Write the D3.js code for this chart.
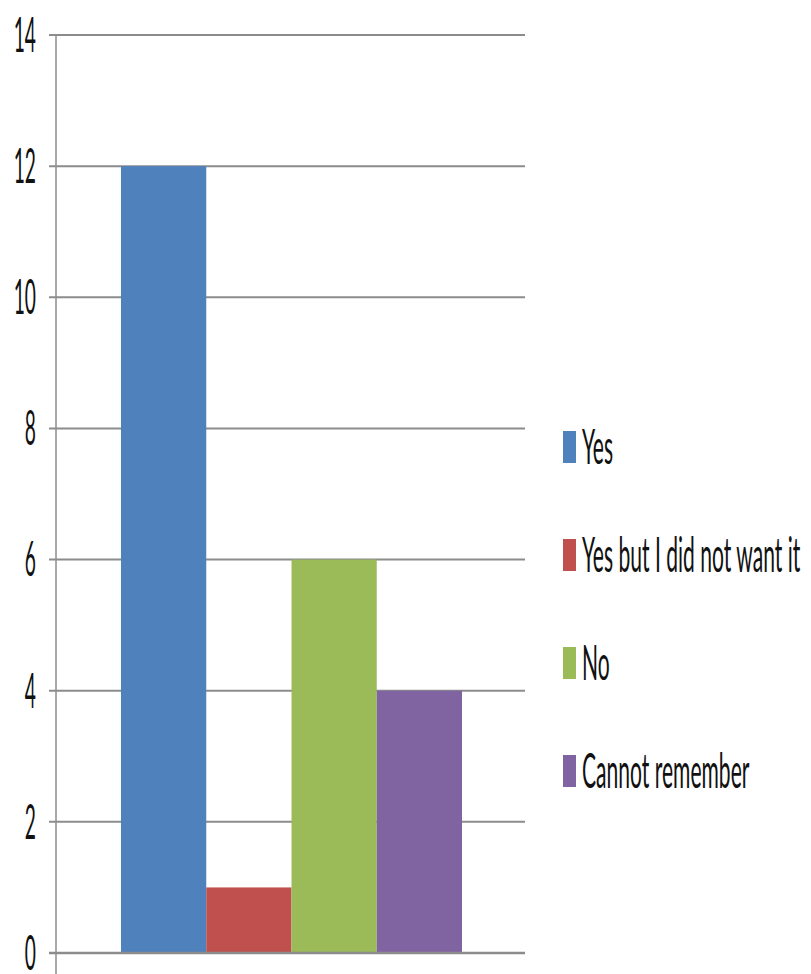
<!DOCTYPE html>
<html>
<head>
<meta charset="utf-8">
<script src="https://cdn.jsdelivr.net/npm/d3@7"></script>
<style>
  body { margin: 0; background: #fff; }
  svg { display: block; }
  text { font-family: Lato, "Open Sans", sans-serif; fill: #111; }
</style>
</head>
<body>
<svg width="811" height="974"></svg>
<script>
// data
var series = ["Yes", "Yes but I did not want it", "No", "Cannot remember"];
var values = [12, 1, 6, 4];
var colors = ["#4F81BD", "#C0504D", "#9BBB59", "#8064A2"];
var yTicks = [0, 2, 4, 6, 8, 10, 12, 14];

var svg = d3.select("svg");

var plot = { left: 56, right: 525, top: 35, bottom: 953 };

var y = d3.scaleLinear()
	.domain([0, 14])
	.range([plot.bottom, plot.top]);

var x = d3.scaleBand()
	.domain(series)
	.range([plot.left + 65, plot.right - 63])
	.paddingInner(0)
	.paddingOuter(0);

// gridlines
svg.append("g").selectAll("line")
	.data(yTicks)
	.enter().append("line")
	.attr("x1", plot.left - 7)
	.attr("x2", plot.right)
	.attr("y1", function(d){ return y(d); })
	.attr("y2", function(d){ return y(d); })
	.attr("stroke", "#8c8c8c")
	.attr("stroke-width", 2);

// bars
svg.append("g").selectAll("rect")
	.data(values)
	.enter().append("rect")
	.attr("x", function(d, i){ return x(series[i]); })
	.attr("y", function(d){ return y(d); })
	.attr("width", x.bandwidth())
	.attr("height", function(d){ return y(0) - y(d); })
	.attr("fill", function(d, i){ return colors[i]; });

// zero line over bars
svg.append("line")
	.attr("x1", plot.left - 7)
	.attr("x2", plot.right)
	.attr("y1", y(0))
	.attr("y2", y(0))
	.attr("stroke", "#8c8c8c")
	.attr("stroke-width", 2.5);

// vertical axis
svg.append("line")
	.attr("x1", plot.left)
	.attr("x2", plot.left)
	.attr("y1", plot.top)
	.attr("y2", 974)
	.attr("stroke", "#8c8c8c")
	.attr("stroke-width", 1.5);

// tick labels (narrow, tall text)
svg.append("g").selectAll("g")
	.data(yTicks)
	.enter().append("g")
	.attr("transform", function(d){ return "translate(36," + y(d) + ") scale(0.4,1)"; })
	.append("text")
	.attr("text-anchor", "end")
	.attr("dy", "0.35em")
	.style("font-size", "48px")
	.text(function(d){ return d; });

// legend
var legend = svg.append("g").selectAll("g")
	.data(series)
	.enter().append("g")
	.attr("transform", function(d, i){ return "translate(563," + (447 + i * 108) + ")"; });

legend.append("rect")
	.attr("x", 0)
	.attr("y", -16)
	.attr("width", 13)
	.attr("height", 32)
	.attr("fill", function(d, i){ return colors[i]; });

legend.append("g")
	.attr("transform", "translate(19,0) scale(0.43,1)")
	.append("text")
	.attr("dy", "0.35em")
	.style("font-size", "49px")
	.text(function(d){ return d; });
</script>
</body>
</html>
